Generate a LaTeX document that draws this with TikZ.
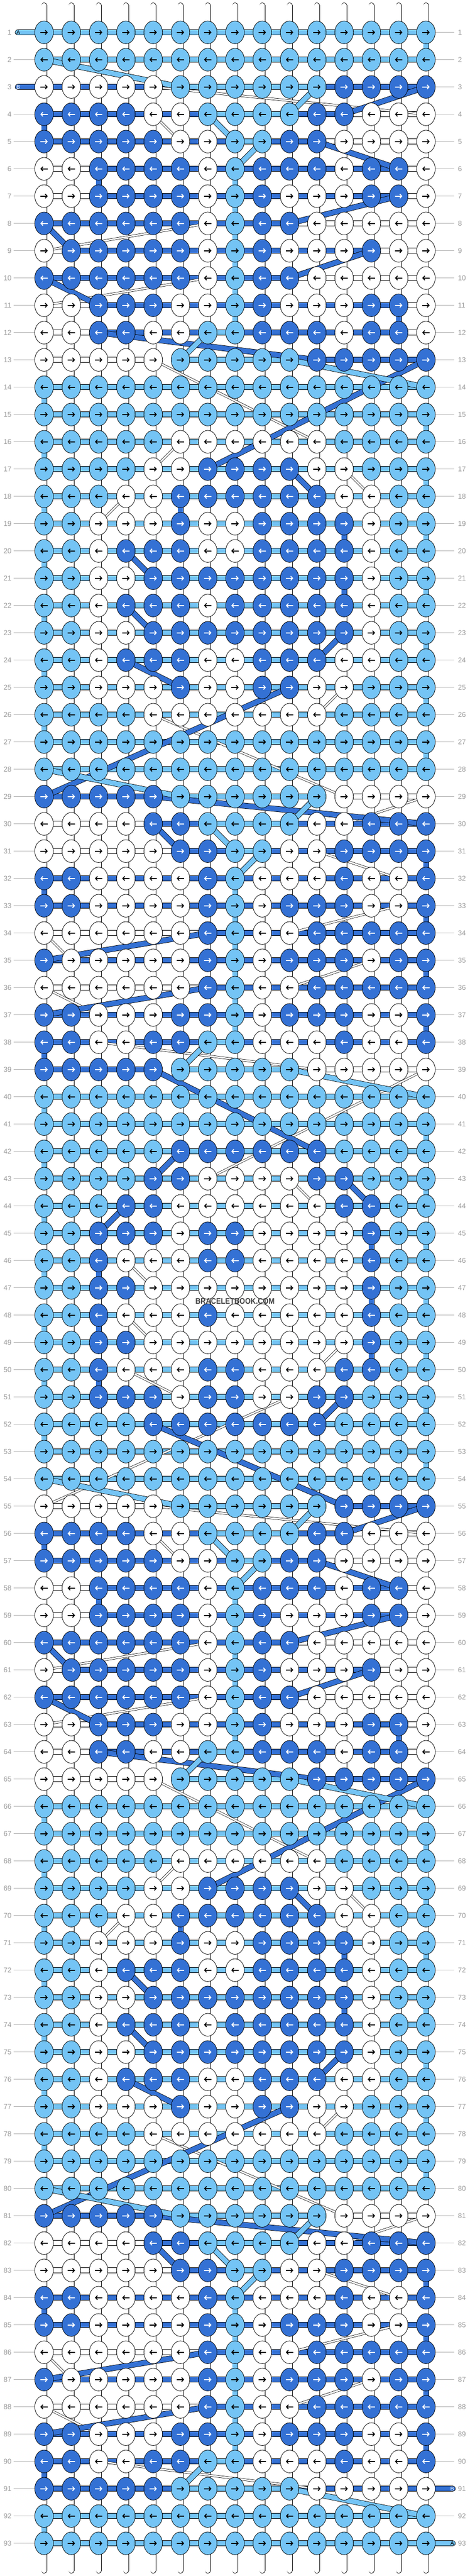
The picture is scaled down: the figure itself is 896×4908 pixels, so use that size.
\documentclass[tikz,border=0pt]{standalone}
\usepackage{fontspec}
\setmainfont{Liberation Sans}
\usepackage{graphicx}
\usetikzlibrary{arrows.meta}
\definecolor{cL}{HTML}{74C4F5}
\definecolor{cD}{HTML}{3471D4}
\definecolor{cW}{HTML}{FFFFFF}
\definecolor{lblgray}{HTML}{9A9A9A}
\definecolor{lngray}{HTML}{B0B0B0}
\definecolor{wmgray}{HTML}{404040}
\newcount\cc \newcount\mnc \newcount\mxc \newcount\lastrow \newcount\lastexit \newcount\entryc \newcount\exitc
\makeatletter
\def\defrow#1#2{\gdef\cur@row{#1}\global\cc=0 \parse@row#2\relax}
\def\parse@row#1{\ifx#1\relax\else\global\advance\cc by 1\relax\expandafter\xdef\csname k@\cur@row @\the\cc\endcsname{#1}\expandafter\parse@row\fi}
\def\setX#1#2{\expandafter\gdef\csname X@#1\endcsname{#2}}
\def\setY#1#2{\expandafter\gdef\csname Y@#1\endcsname{#2}}
\def\K#1#2{\csname k@#1@#2\endcsname}
\def\MN#1#2{\csname mn@#1@#2\endcsname}
\def\MX#1#2{\csname mx@#1@#2\endcsname}
\makeatother
\setX{1}{LLLLLLLLLLLLLLL}
\setX{2}{LLLLLLLLLLLLLLL}
\setX{3}{WWWWWLLLLLLDDDD}
\setX{4}{DDDDWWLLLLDDWWW}
\setX{5}{DDDDDWWLLDDWWWW}
\setX{6}{WWDDDDWLDDDWDDW}
\setX{7}{WWDDDDWLDWWWDDW}
\setX{8}{DDDDDDWLDDWWWWW}
\setX{9}{WDDDDDWLDWWWDWW}
\setX{10}{DDDDDDWLDDWWWWW}
\setX{11}{WWDDDWWLDWWWDDW}
\setX{12}{WWDDWWLLDDDWDDW}
\setX{13}{WWWWWLLLLLDDDDD}
\setX{14}{LLLLLLLLLLLLLLL}
\setX{15}{LLLLLLLLLLLLLLL}
\setX{16}{LLLLLWWWWWWLLLL}
\setX{17}{LLLLWWDDDDWWLLL}
\setX{18}{LLLWWDDDDDDWWLL}
\setX{19}{LLWWWDWWDDDDWLL}
\setX{20}{LLWDDDWWDDDDWLL}
\setX{21}{LLWWDDDDDDDDWLL}
\setX{22}{LLWDDDWDDDDDWLL}
\setX{23}{LLWWDDDDDDDDWLL}
\setX{24}{LLWDDDWWDDDWWLL}
\setX{25}{LLWWWDWWDDWWLLL}
\setX{26}{LLLLWWWWWWWLLLL}
\setY{1}{LLLLLLLLLLLLLLL}
\setY{2}{LLLLLLLLLLLLLLL}
\setY{3}{DDDDDLLLLLLWWWW}
\setY{4}{WWWWDDLLLLWWDDD}
\setY{5}{WWWWWDDLLWWDDDD}
\setY{6}{DDWWWWDLWWWDWWD}
\setY{7}{DDWWWWDLWDDDWWD}
\setY{8}{WWWWWWDLWWDDDDD}
\setY{9}{DWWWWWDLWDDDWDD}
\setY{10}{WWWWWWDLWWDDDDD}
\setY{11}{DDWWWDDLWDDDWWD}
\setY{12}{DDWWDDLLWWWDWWD}
\setY{13}{DDDDDLLLLLWWWWW}
\setY{14}{LLLLLLLLLLLLLLL}
\setY{15}{LLLLLLLLLLLLLLL}
\setY{16}{LLLLLDDDDDDLLLL}
\setY{17}{LLLLDDWWWWDDLLL}
\setY{18}{LLLDDWWWWWWDDLL}
\setY{19}{LLDDDWDDWWWWDLL}
\setY{20}{LLDWWWDDWWWWDLL}
\setY{21}{LLDDWWWWWWWWDLL}
\setY{22}{LLDWWWDWWWWWDLL}
\setY{23}{LLDDWWWWWWWWDLL}
\setY{24}{LLDWWWDDWWWDDLL}
\setY{25}{LLDDDWDDWWDDLLL}
\setY{26}{LLLLDDDDDDDLLLL}
\tikzset{
  strbar/.style={draw=black, line width=0.8pt, double distance=9.4pt, line cap=butt},
  thinbar/.style={draw=black, line width=0.7pt, double=white, double distance=3pt},
  knotshape/.style={draw=black, line width=0.8pt},
  arr/.style={line width=1.8pt, -{Straight Barb[length=3.6pt,width=8pt]}},
  lbl/.style={text=lblgray, inner sep=0pt, font=\fontsize{13.5}{14}\selectfont},
  tablbl/.style={inner sep=0pt, font=\fontsize{10.5}{11}\selectfont},
}
\begin{document}
\begin{tikzpicture}[x=1pt,y=-1pt]
\useasboundingbox (0,0) rectangle (896,4908);
% ---- data
\foreach \r in {1,...,93}{%
  \pgfmathtruncatemacro\bl{mod(\r-1,52)}%
  \pgfmathtruncatemacro\idx{mod(\bl,26)+1}%
  \ifnum\bl<26 \def\blk{X}\else\def\blk{Y}\fi
  \edef\tmp{\noexpand\defrow{\r}{\csname\blk @\idx\endcsname}}\tmp
}
% ---- spans
\foreach \r in {1,...,93}{%
  \foreach \s in {L,D,W}{%
    \global\mnc=0 \global\mxc=0
    \foreach \i in {1,...,15}{%
      \edef\kk{\K{\r}{\i}}%
      \if\kk\s \ifnum\mnc=0 \global\mnc=\i\relax\fi \global\mxc=\i\relax\fi
    }%
    \expandafter\xdef\csname mn@\s @\r\endcsname{\the\mnc}%
    \expandafter\xdef\csname mx@\s @\r\endcsname{\the\mxc}%
  }%
}
\expandafter\xdef\csname mn@D@3\endcsname{1}
\expandafter\xdef\csname mx@D@91\endcsname{15}
% ---- base strings
\foreach \i in {1,...,15}{%
  \draw[strbar,double=white,line cap=round] ({84+52*(\i-1)},10.5) -- ({84+52*(\i-1)},4897.5);
}
% ---- label lines and labels
\foreach \r in {1,...,93}{%
  \pgfmathsetmacro\yy{61.7+52*(\r-1)}%
  \ifnum\r=1 \else\ifnum\r=3 \else \draw[lngray,line width=1pt] (26,\yy) -- (84,\yy);\fi\fi
  \ifnum\r=91 \else\ifnum\r=93 \else \draw[lngray,line width=1pt] (812,\yy) -- (866,\yy);\fi\fi
  \node[lbl,anchor=east] at (22,\yy) {\r};
  \node[lbl,anchor=west] at (873,\yy) {\r};
}
% ---- bands
\foreach \r in {1,...,93}{%
  \pgfmathsetmacro\yy{61.7+52*(\r-1)}%
  \foreach \i in {1,...,14}{%
    \gdef\bc{}%
    \foreach \s in {W,D,L}{%
      \ifnum\MN{\s}{\r}>0\relax
        \ifnum\MN{\s}{\r}>\i\relax\else
          \ifnum\MX{\s}{\r}>\i\relax \xdef\bc{\s}\fi
        \fi
      \fi
    }%
    \ifx\bc\empty\else
      \draw[strbar,double=c\bc] ({84+52*(\i-1)},\yy) -- ({84+52*\i},\yy);
    \fi
  }%
}
% ---- tabs
\draw[strbar,double=cL,line cap=round] (34,61.7) -- (84,61.7);
\draw[strbar,double=cD,line cap=round] (34,165.7) -- (84,165.7);
\draw[strbar,double=cD,line cap=round] (812,4741.7) -- (863,4741.7);
\draw[strbar,double=cL,line cap=round] (812,4845.7) -- (863,4845.7);
\node[tablbl] at (35,61.7) {A};
\node[tablbl,text=white] at (35,165.7) {B};
\node[tablbl,text=white] at (862,4741.7) {B};
\node[tablbl] at (862,4845.7) {A};
% ---- connectors
\foreach \s in {W,D,L}{%
  \global\lastrow=0 \global\lastexit=0
  \foreach \r in {1,...,93}{%
    \ifnum\MN{\s}{\r}>0\relax
      \ifodd\r\relax
        \global\entryc=\MN{\s}{\r}\relax \global\exitc=\MX{\s}{\r}\relax
      \else
        \global\entryc=\MX{\s}{\r}\relax \global\exitc=\MN{\s}{\r}\relax
      \fi
      \ifnum\lastrow>0\relax
        \pgfmathsetmacro\xa{84+52*(\the\lastexit-1)}%
        \pgfmathsetmacro\ya{61.7+52*(\the\lastrow-1)}%
        \pgfmathsetmacro\xb{84+52*(\the\entryc-1)}%
        \pgfmathsetmacro\yb{61.7+52*(\r-1)}%
        \def\thin{0}%
        \if W\s \ifnum\lastexit=\entryc\relax\else\def\thin{1}\fi\fi
        \ifnum\thin=1 \draw[thinbar] (\xa,\ya) -- (\xb,\yb);
        \else \draw[strbar,double=c\s] (\xa,\ya) -- (\xb,\yb);\fi
      \fi
      \global\lastrow=\r\relax \global\lastexit=\exitc
    \fi
  }%
}
% ---- knots
\foreach \r in {1,...,93}{%
  \pgfmathsetmacro\yy{61.7+52*(\r-1)}%
  \foreach \i in {1,...,15}{%
    \edef\kk{\K{\r}{\i}}%
    \pgfmathsetmacro\xx{84+52*(\i-1)}%
    \filldraw[knotshape, fill=c\kk] (\xx,\yy) ellipse [x radius=17.7pt, y radius=21.7pt];
    \if D\kk \def\ac{white}\else \def\ac{black}\fi
    \ifodd\r\relax
      \draw[arr,draw=\ac] ({\xx-7},\yy) -- ({\xx+7},\yy);
    \else
      \draw[arr,draw=\ac] ({\xx+7},\yy) -- ({\xx-7},\yy);
    \fi
  }%
}
% ---- watermark
\node[text=wmgray, font=\bfseries\fontsize{15.5}{16}\selectfont, inner sep=0pt] at (448,2479) {\scalebox{0.88}[1]{BRACELETBOOK.COM}};
\end{tikzpicture}
\end{document}
